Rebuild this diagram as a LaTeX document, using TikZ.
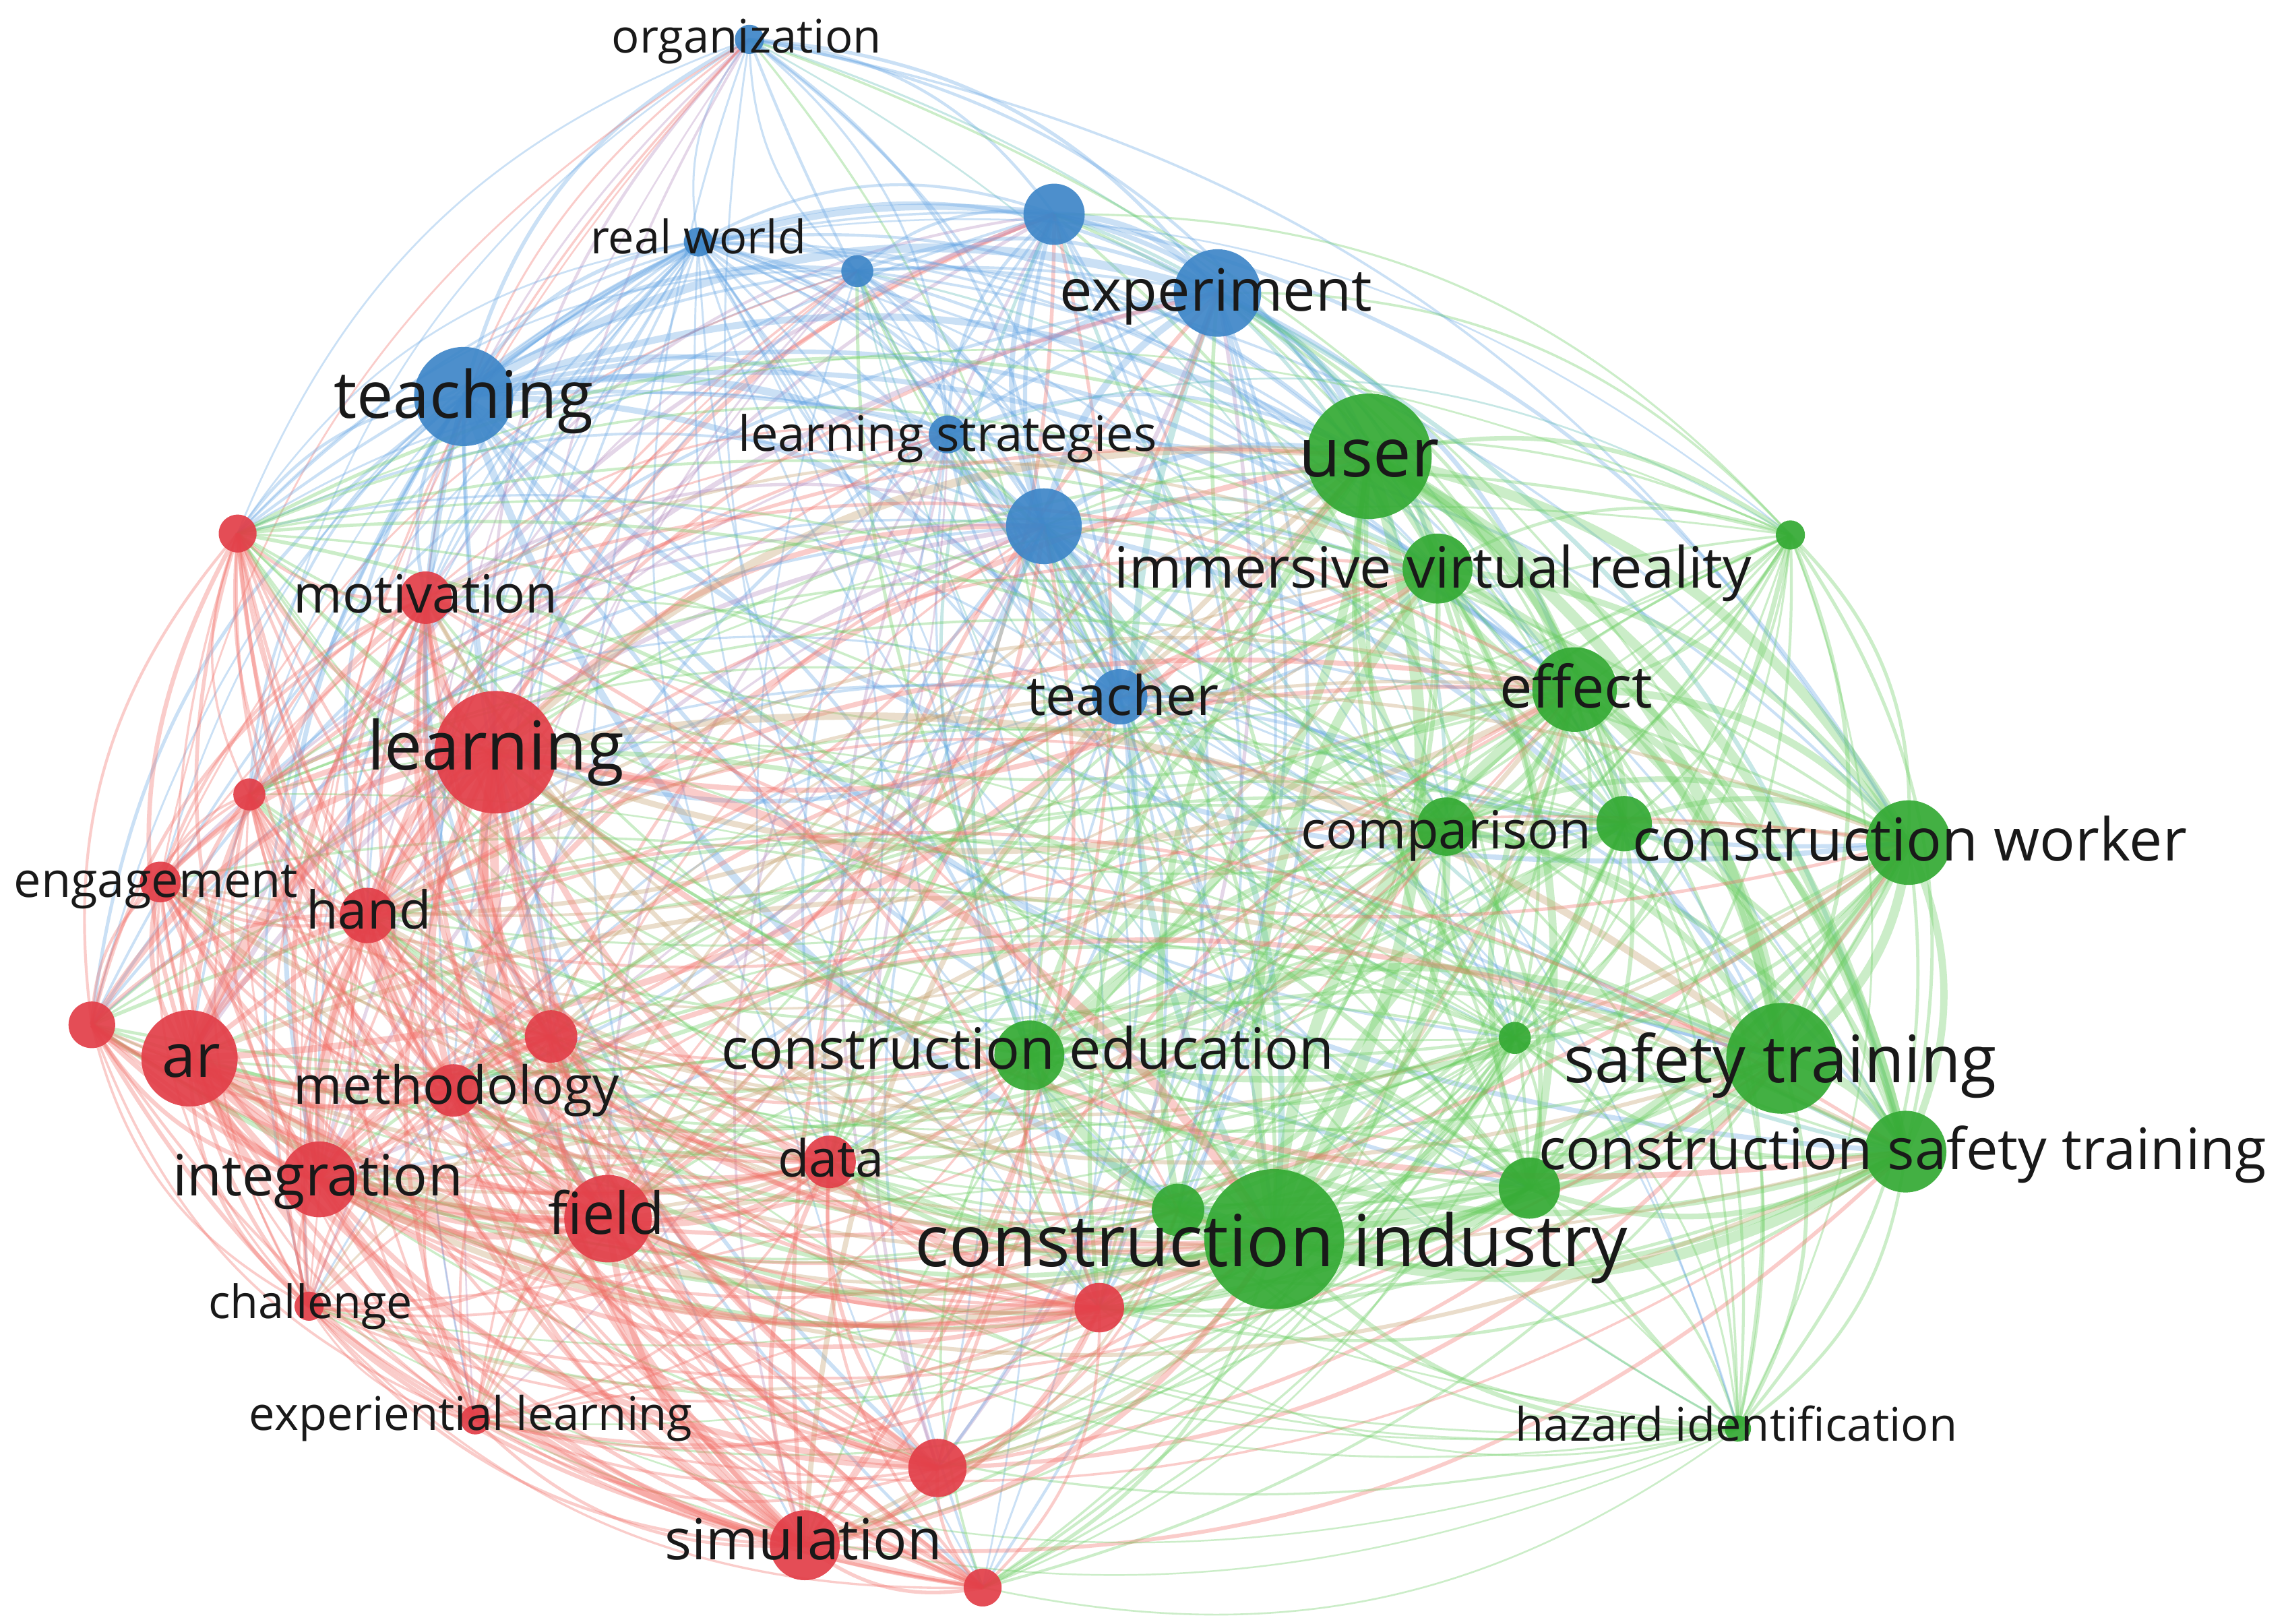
\documentclass[tikz,border=0pt]{standalone}
\usepackage{fontspec}
\setmainfont{Open Sans}
\usepackage{graphicx}
\pgfdeclarelayer{bg}
\pgfdeclarelayer{edges}
\pgfsetlayers{bg,edges,main}
\definecolor{nc0}{RGB}{226,62,72}
\definecolor{nc1}{RGB}{52,170,52}
\definecolor{nc2}{RGB}{62,134,200}
\definecolor{e00}{RGB}{242,108,100}
\definecolor{e11}{RGB}{105,205,95}
\definecolor{e22}{RGB}{100,165,228}
\definecolor{e01}{RGB}{195,158,105}
\definecolor{e10}{RGB}{195,158,105}
\definecolor{e02}{RGB}{178,135,188}
\definecolor{e20}{RGB}{178,135,188}
\definecolor{e12}{RGB}{90,185,180}
\definecolor{e21}{RGB}{90,185,180}
\definecolor{labtxt}{RGB}{25,25,25}
\def\X{{514,723,479,588,835,318,650,716,768,939,986,1228,1080,992,1114,1309,706,1039,1222,1307,1049,808,874,1192,163,292,340,171,110,252,63,130,378,311,219,417,569,212,326,754,643,552,674}}
\def\Y{{27,147,166,186,201,272,298,361,478,313,390,367,473,567,565,578,724,712,726,790,815,830,850,980,366,410,516,545,605,628,703,726,711,748,809,836,797,896,974,897,1007,1060,1089}}
\def\R{{10,21,10,11,30,34,13,26,19,43,24,10,29,20,19,29,24,11,38,28,21,18,48,9,13,18,42,11,14,19,16,33,18,18,26,30,18,10,10,17,20,24,13}}
\def\C{{2,2,2,2,2,2,2,2,2,1,1,1,1,1,1,1,1,1,1,1,1,1,1,1,0,0,0,0,0,0,0,0,0,0,0,0,0,0,0,0,0,0,0}}
\newcommand\lbl[2]{\resizebox{#1pt}{!}{\vphantom{lg}#2}}
\begin{document}
\begin{tikzpicture}[x=0.1pt,y=-0.1pt,
  edgeline/.style={draw opacity=0.34},
  keyword/.style={circle,inner sep=0pt,fill opacity=0.92},
  lab/.style={inner sep=0pt,text=labtxt}]
\begin{pgfonlayer}{bg}
\fill[white] (0,0) rectangle (1568,1114);
\end{pgfonlayer}
\useasboundingbox (0,0) rectangle (1568,1114);
% keyword circles
\foreach \i in {0,...,42}{
  \pgfmathsetmacro\xa{\X[\i]}
  \pgfmathsetmacro\ya{\Y[\i]}
  \pgfmathsetmacro\da{0.2*\R[\i]}
  \pgfmathtruncatemacro\ca{\C[\i]}
  \node[keyword,minimum size=\da pt,fill=nc\ca] (n\i) at (\xa,\ya) {};
}
% links
\begin{pgfonlayer}{edges}
\foreach \i in {0,...,41}{
  \pgfmathtruncatemacro\ip{\i+1}
  \foreach \j in {\ip,...,42}{
    \pgfmathsetmacro\xa{\X[\i]}
    \pgfmathsetmacro\ya{\Y[\i]}
    \pgfmathsetmacro\xb{\X[\j]}
    \pgfmathsetmacro\yb{\Y[\j]}
    \pgfmathtruncatemacro\ca{\C[\i]}
    \pgfmathtruncatemacro\cb{\C[\j]}
    \pgfmathsetmacro\ra{\R[\i]}
    \pgfmathsetmacro\rb{\R[\j]}
    \pgfmathtruncatemacro\hh{mod(\i*17+\j*31+\i*\j*7,10)}
    \pgfmathtruncatemacro\thr{\ca==\cb ? 1 : 4}
    \ifnum\hh<\thr\relax\else
      \pgfmathsetmacro\ew{0.1*min(8,0.9+\ra*\rb/(\ca==\cb ? 200 : 380))}
      \pgfmathsetmacro\crs{((\xa-780)/100)*((\yb-560)/100)-((\ya-560)/100)*((\xb-780)/100)}
      \pgfmathsetmacro\md{((\xa+\xb)/2-780)/700*((\xa+\xb)/2-780)/700+((\ya+\yb)/2-560)/500*((\ya+\yb)/2-560)/500}
      \pgfmathtruncatemacro\pty{mod(\i*5+\j*3,2)}
      \pgfmathtruncatemacro\sel{mod(\i*3+\j*7+\i*\j,3)}
      \ifcase\sel\relax
        \edef\ecol{e\ca\ca}\or\edef\ecol{e\cb\cb}\or\edef\ecol{e\ca\cb}\fi
      \ifdim\md pt<0.2pt
        \ifnum\pty=0
          \pgfmathsetmacro\crs{-\crs}
        \fi
      \fi
      \ifdim\crs pt>0pt
        \draw[edgeline,line width=\ew pt,draw=\ecol] (n\i.center) to[bend left=24] (n\j.center);
      \else
        \draw[edgeline,line width=\ew pt,draw=\ecol] (n\j.center) to[bend left=24] (n\i.center);
      \fi
    \fi
  }
}
\end{pgfonlayer}
% labels
\foreach \k/\lw/\lx/\ly/\labtext in {
  0/18.5/512/28/organization,
  2/14.8/479/166/real world,
  4/21.4/834/203/experiment,
  5/17.8/318/275/teaching,
  6/28.7/650/301/learning strategies,
  9/9.6/939/315/user,
  10/43.7/983/393/immersive virtual reality,
  25/18.1/292/411/motivation,
  12/10.5/1081/475/effect,
  8/13.2/770/481/teacher,
  26/17.6/340/516/learning,
  13/19.9/992/573/comparison,
  15/38.0/1310/580/construction worker,
  28/19.5/107/607/engagement,
  29/8.6/253/628/hand,
  16/42.0/705/723/construction education,
  18/29.7/1221/731/safety training,
  31/4.0/131/728/ar,
  33/22.3/313/748/methodology,
  36/7.3/570/798/data,
  19/49.9/1305/792/construction safety training,
  34/19.9/218/810/integration,
  35/8.0/416/836/field,
  22/48.9/872/856/construction industry,
  37/14.0/213/896/challenge,
  38/30.4/323/973/experiential learning,
  23/30.3/1191/980/hazard identification,
  41/19.0/551/1060/simulation}{
  \node[lab] (l\k) at (\lx,\ly) {\lbl{\lw}{\labtext}};
}
\end{tikzpicture}
\end{document}
